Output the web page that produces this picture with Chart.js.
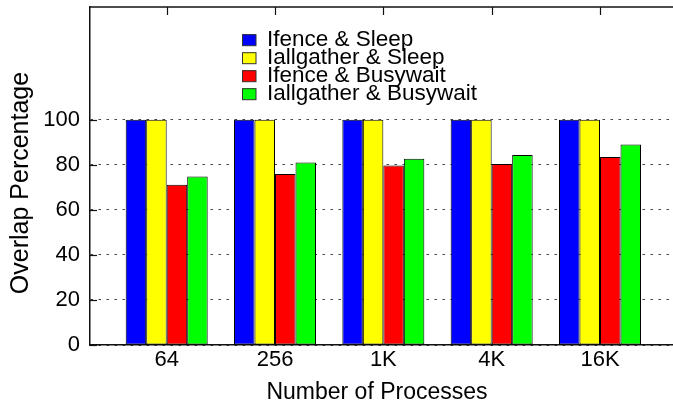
<!DOCTYPE html>
<html>
<head>
<meta charset="utf-8">
<script src="https://cdn.jsdelivr.net/npm/chart.js@4/dist/chart.umd.min.js"></script>
<style>
  html, body { margin: 0; padding: 0; background: #fff; }
  #chart { display: block; }
</style>
</head>
<body>
<canvas id="chart" width="673" height="408"></canvas>
<script>
const categories = ['64', '256', '1K', '4K', '16K'];
const yTicks = [0, 20, 40, 60, 80, 100];

const fenceSleep = [100, 100, 100, 100, 100];
const allgatherSleep = [100, 100, 100, 100, 100];
const fenceBusy = [71.1, 75.9, 79.7, 80.3, 83.4];
const allgatherBusy = [74.8, 81.0, 82.7, 84.3, 89.0];

const seriesNames = ['Ifence & Sleep', 'Iallgather & Sleep', 'Ifence & Busywait', 'Iallgather & Busywait'];
const seriesColors = ['#0000ff', '#ffff00', '#ff0000', '#00ff00'];

const FONT = '"Liberation Sans", Arial, Helvetica, sans-serif';

function toPoints(arr) {
  return arr.map((v, i) => ({x: i, y: v}));
}

// frame, inward ticks, legend and axis titles (gnuplot style)
const gnuplotBits = {
  id: 'gnuplotBits',
  afterDraw(chart) {
    const ctx = chart.ctx;
    const area = chart.chartArea;
    const xs = chart.scales.x;
    const ys = chart.scales.y;
    ctx.save();
    ctx.strokeStyle = '#111';
    ctx.lineWidth = 1.5;
    // top border
    ctx.beginPath();
    ctx.moveTo(area.left, area.top);
    ctx.lineTo(area.right, area.top);
    ctx.stroke();
    // top ticks at categories
    ctx.lineWidth = 1.2;
    categories.forEach((c, i) => {
      const px = Math.round(xs.getPixelForValue(i)) + 0.5;
      ctx.beginPath();
      ctx.moveTo(px, area.top);
      ctx.lineTo(px, area.top + 8);
      ctx.stroke();
    });
    // left ticks inward
    yTicks.forEach(v => {
      const py = Math.round(ys.getPixelForValue(v)) + 0.5;
      ctx.beginPath();
      ctx.moveTo(area.left, py);
      ctx.lineTo(area.left + 7, py);
      ctx.stroke();
    });

    // legend
    ctx.font = '22.5px ' + FONT;
    ctx.textAlign = 'left';
    ctx.textBaseline = 'alphabetic';
    chart.data.datasets.forEach((ds, i) => {
      const base = 45.7 + i * 18;
      ctx.fillStyle = ds.backgroundColor;
      ctx.fillRect(242, base - 11.5, 14, 11.5);
      ctx.strokeStyle = '#333';
      ctx.lineWidth = 1;
      ctx.strokeRect(242.5, base - 11, 13.5, 11);
      ctx.fillStyle = '#000';
      ctx.fillText(ds.label, 267, base);
    });

    // axis titles
    ctx.fillStyle = '#000';
    ctx.font = '23px ' + FONT;
    ctx.textAlign = 'center';
    ctx.textBaseline = 'middle';
    ctx.fillText('Number of Processes', 377, 393);
    ctx.save();
    ctx.translate(21, 183);
    ctx.rotate(-Math.PI / 2);
    ctx.font = '25px ' + FONT;
    ctx.fillText('Overlap Percentage', 0, 0);
    ctx.restore();
    ctx.restore();
  }
};

const ctx = document.getElementById('chart').getContext('2d');
const chart = new Chart(ctx, {
  type: 'bar',
  data: {
    datasets: [fenceSleep, allgatherSleep, fenceBusy, allgatherBusy].map((arr, i) => ({
      label: seriesNames[i],
      data: toPoints(arr),
      backgroundColor: seriesColors[i],
      borderColor: '#000',
      borderWidth: 1,
      borderSkipped: false,
      categoryPercentage: 0.757,
      barPercentage: 1.0
    }))
  },
  options: {
    responsive: false,
    animation: false,
    devicePixelRatio: 1,
    layout: { padding: { top: 7, right: 0, left: 0, bottom: 0 } },
    plugins: {
      legend: { display: false },
      tooltip: { enabled: false }
    },
    scales: {
      x: {
        type: 'linear',
        offset: false,
        min: -0.708,
        max: 4.674,
        afterBuildTicks: (scale) => { scale.ticks = categories.map((c, i) => ({value: i})); },
        afterFit: (scale) => {
          scale.height = 63;
          scale.paddingLeft = 0;
          scale.paddingRight = 0;
        },
        grid: { display: false, drawTicks: false, offset: false },
        border: { display: true, color: '#111', width: 1.5 },
        ticks: {
          autoSkip: false,
          maxRotation: 0,
          padding: 2,
          color: '#000',
          font: { family: FONT, size: 22 },
          callback: (v) => categories[v]
        }
      },
      y: {
        min: 0,
        max: 150,
        afterBuildTicks: (scale) => { scale.ticks = yTicks.map(v => ({value: v})); },
        afterFit: (scale) => {
          scale.width = 90;
          scale.paddingTop = 0;
          scale.paddingBottom = 0;
        },
        grid: { color: '#444', lineWidth: 1, drawTicks: false },
        border: { display: true, color: '#111', width: 1.5, dash: [2.5, 5.5] },
        ticks: {
          padding: 10,
          color: '#000',
          font: { family: FONT, size: 22 }
        }
      }
    }
  },
  plugins: [gnuplotBits]
});
</script>
</body>
</html>
